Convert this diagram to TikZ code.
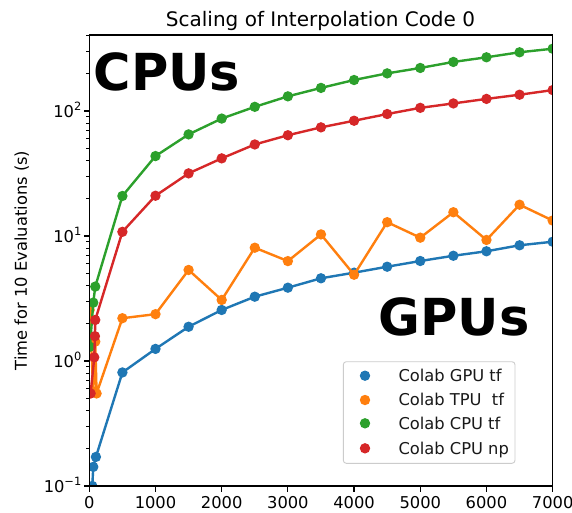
\documentclass[tikz,border=0pt]{standalone}
\usepackage{fontspec}
\setmainfont{DejaVu Sans}
\definecolor{tabblue}{HTML}{1F77B4}
\definecolor{taborange}{HTML}{FF7F0E}
\definecolor{tabgreen}{HTML}{2CA02C}
\definecolor{tabred}{HTML}{D62728}
\newcommand\fsz[1]{\fontsize{#1}{#1}\selectfont}
\newcommand\sciten[1]{10\raisebox{0.42em}{\fsz{11.4}#1}}
% one data series: colour, first x, first value, remaining x/value pairs
\newcommand\plotseries[4]{%
  \draw[serline,#1] ({px(#2)},{py(#3)}) \foreach \x/\v in {#4} { -- ({px(\x)},{py(\v)}) };
  \foreach \x/\v in {#2/#3,#4} \fill[#1] ({px(\x)},{py(\v)}) circle[radius=5.2];
}
\begin{document}
\begin{tikzpicture}[x=1pt,y=-1pt,
  declare function={px(\x)=89.3+0.0662*\x; py(\v)=361-125*log10(\v);},
  serline/.style={line width=2.4pt,line join=round},
  tickline/.style={line width=1.2pt,black},
  spine/.style={line width=1.3pt,black},
  ticklab/.style={font=\fsz{16.3},inner sep=0pt,text=black},
  bigword/.style={font=\fsz{51}\bfseries,inner sep=0pt,text=black},
  legtext/.style={font=\fsz{16.3},inner sep=0pt,anchor=base west,text=black!90}]
\useasboundingbox (0,0) rectangle (572,512);
\fill[white] (0,0) rectangle (572,512);

% data, clipped to the axes
\begin{scope}
\clip (89.3,35) rectangle (552.7,486);
\plotseries{tabblue}{45}{0.1}{60/0.14,100/0.17,500/0.81,1000/1.25,1500/1.88,2000/2.56,2500/3.27,3000/3.86,3500/4.59,4000/5.09,4500/5.68,5000/6.31,5500/6.95,6000/7.55,6500/8.43,7000/9.0}
\plotseries{taborange}{5}{2.56}{60/0.57,90/1.43,110/0.55,500/2.2,1000/2.37,1500/5.35,2000/3.08,2500/8.06,3000/6.3,3500/10.3,4000/4.9,4500/12.9,5000/9.7,5500/15.5,6000/9.3,6500/17.8,7000/13.3}
\plotseries{tabgreen}{10}{1.3}{60/2.93,90/3.94,500/20.9,1000/43.6,1500/65,2000/87,2500/108,3000/131,3500/153,4000/177,4500/200,5000/221,5500/247,6000/269,6500/295,7000/315}
\plotseries{tabred}{20}{0.55}{75/1.07,85/1.58,90/2.13,500/10.8,1000/21,1500/31.7,2000/41.8,2500/54,3000/64,3500/74,4000/83.6,4500/94.6,5000/106,5500/115,6000/125,6500/135,7000/147}
\end{scope}

% axes frame
\draw[spine] (89.3,35) rectangle (552.7,486);

% y axis: log ticks
\foreach \e/\lab in {-1/{−1},0/0,1/1,2/2} {
  \draw[tickline] (89.3,{361-125*\e}) -- ++(-5.8,0);
  \node[ticklab,anchor=base east] (ylab\e) at (81.5,{361-125*\e+6}) {\sciten{\lab}};
}
\foreach \e in {-1,0,1,2} {
  \foreach \k in {2,...,9} {
    \pgfmathsetmacro\yy{361-125*(\e+log10(\k))}
    \ifdim\yy pt>34pt
      \draw[tickline] (89.3,\yy) -- ++(-3.3,0);
    \fi
  }
}

% x axis ticks
\foreach \t in {0,1000,...,7000} {
  \draw[tickline] ({px(\t)},486) -- ++(0,5.8);
  \node[ticklab,anchor=north] (xlab\t) at ({px(\t)},496.5) {\t};
}

% labels
\node[ticklab,rotate=90] (ylabel) at (21.7,260.5) {Time for 10 Evaluations (s)};
\node[font=\fsz{20},inner sep=0pt,anchor=base] (title) at (320.5,26.5) {Scaling of Interpolation Code 0};
\node[bigword,anchor=base west] (cpus) at (93.5,90) {CPUs};
\node[bigword,anchor=base west] (gpus) at (378.5,335) {GPUs};

% legend
\draw[rounded corners=3pt,draw=black!20,line width=0.9pt,fill=white,fill opacity=0.8] (343.3,361.7) rectangle (515,463.3);
\foreach \c/\yy/\txt [count=\i] in {tabblue/375.7/{Colab GPU tf},taborange/400/{Colab TPU\ \ tf},tabgreen/423.3/{Colab CPU tf},tabred/448.3/{Colab CPU np}} {
  \fill[\c] (365,\yy) circle[radius=5.2];
  \node[legtext] (leg\i) at (398.3,\yy+5.9) {\txt};
}
\end{tikzpicture}
\end{document}
